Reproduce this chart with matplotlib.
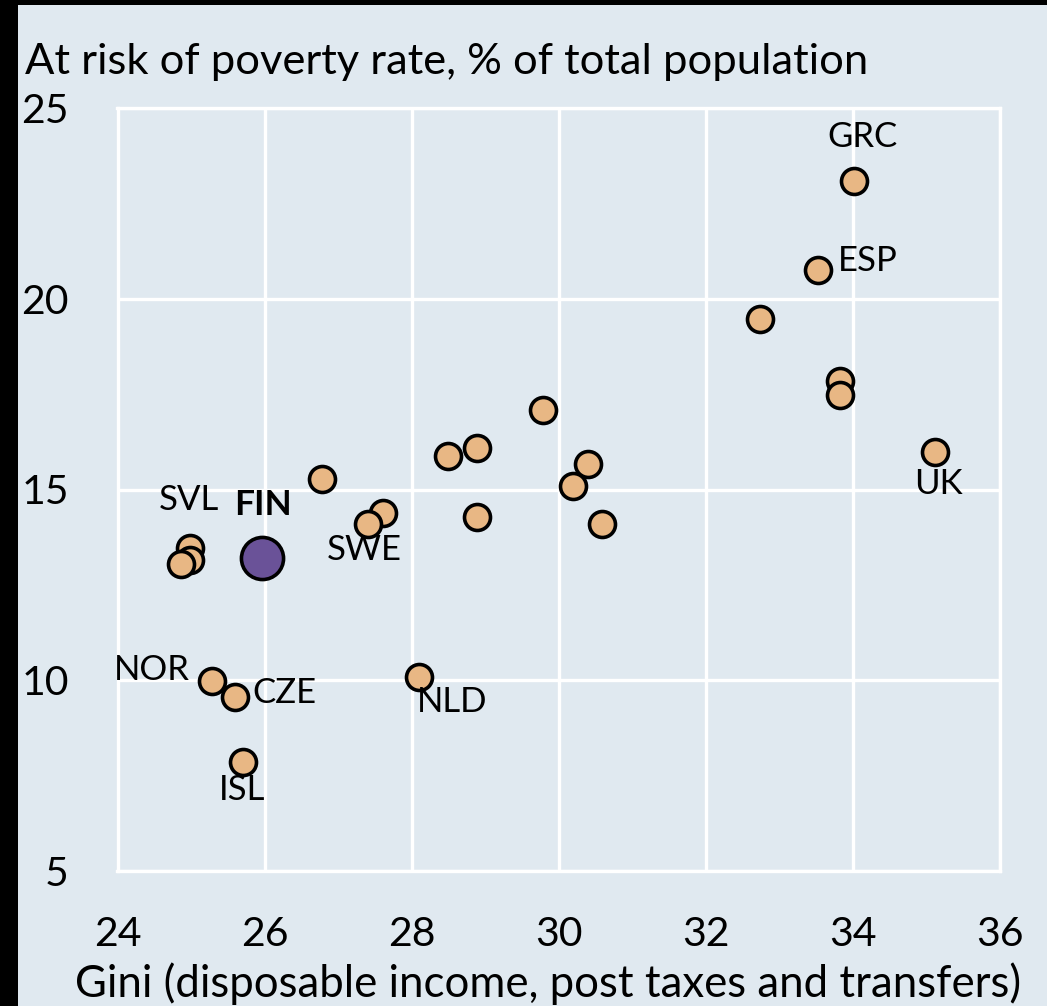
import matplotlib
matplotlib.use("Agg")
import matplotlib.pyplot as plt
from matplotlib.patches import Rectangle

plt.rcParams['font.family'] = ['Lato', 'DejaVu Sans']

# Data: Gini (x) vs at-risk-of-poverty rate (y)
gini = [34.02, 33.53, 32.73, 33.82, 33.82, 35.12, 29.79, 28.50, 28.89, 30.40,
        30.20, 30.59, 28.89, 26.78, 27.61, 27.40, 24.98, 24.98, 24.87,
        25.28, 25.60, 25.70, 28.10]
poverty = [23.09, 20.75, 19.47, 17.84, 17.48, 15.98, 17.08, 15.88, 16.09, 15.67,
           15.09, 14.10, 14.28, 15.28, 14.38, 14.09, 13.47, 13.15, 13.06,
           9.98, 9.55, 7.85, 10.08]
labels = ['GRC', 'ESP', '', '', '', 'UK', '', '', '', '',
          '', '', '', '', '', 'SWE', 'SVL', '', '',
          'NOR', 'CZE', 'ISL', 'NLD']
fin_gini = [25.97]
fin_poverty = [13.20]
fin_label = 'FIN'

xticks = [24, 26, 28, 30, 32, 34, 36]
yticks = [5, 10, 15, 20, 25]

BG = '#E0E9F0'
ORANGE = '#E8B784'
PURPLE = '#6A5298'

W, H = 1047, 1006
fig = plt.figure(figsize=(W / 100, H / 100), dpi=100)
fig.patch.set_facecolor(BG)
fig.patches.append(Rectangle((0, 0), 18 / W, 1, transform=fig.transFigure,
                             facecolor='black', edgecolor='none', zorder=0))
fig.patches.append(Rectangle((0, 1 - 5 / H), 1, 5 / H, transform=fig.transFigure,
                             facecolor='black', edgecolor='none', zorder=0))

ax = fig.add_axes([117.5 / W, 1 - 871 / H, (1000 - 117.5) / W, (871 - 108) / H])
ax.set_facecolor(BG)
ax.set_xlim(24, 36)
ax.set_ylim(5, 25)
ax.set_xticks(xticks)
ax.set_yticks(yticks)
ax.grid(True, color='white', linewidth=2.4)
ax.set_axisbelow(True)
for s in ax.spines.values():
    s.set_color('white')
    s.set_linewidth(2.4)
ax.tick_params(length=0, labelsize=29.5, colors='black')
ax.tick_params(axis='y', pad=35)
ax.tick_params(axis='x', pad=32.5)
for t in ax.get_yticklabels():
    t.set_horizontalalignment('right')

ax.scatter(gini, poverty, s=350, color=ORANGE, edgecolor='black',
           linewidth=2.6, zorder=3, clip_on=False)
ax.scatter(fin_gini, fin_poverty, s=920, color=PURPLE, edgecolor='black',
           linewidth=2.6, zorder=4, clip_on=False)

# label offsets in pixels (dx, dy) and alignment
offsets = {
    'GRC': (8, 44, 'center'),
    'ESP': (20, 9, 'left'),
    'UK': (3, -32, 'center'),
    'SWE': (-3, -26, 'center'),
    'SVL': (-1, 48, 'center'),
    'NOR': (-22, 11, 'right'),
    'CZE': (17, 4, 'left'),
    'ISL': (0, -28, 'center'),
    'NLD': (33, -25, 'center'),
}
for xv, yv, lab in zip(gini, poverty, labels):
    if not lab:
        continue
    dx, dy, ha = offsets[lab]
    ax.annotate(lab, (xv, yv), xytext=(dx, dy), textcoords='offset pixels',
                ha=ha, va='center', fontsize=25, zorder=5)
ax.annotate(fin_label, (fin_gini[0], fin_poverty[0]), xytext=(1, 53),
            textcoords='offset pixels', ha='center', va='center',
            fontsize=25.5, fontweight='bold', zorder=5)

fig.text(25 / W, 1 - 74 / H, 'At risk of poverty rate, % of total population',
         ha='left', va='baseline', fontsize=31.3)
fig.text(548.5 / W, 1 - 997 / H,
         'Gini (disposable income, post taxes and transfers)',
         ha='center', va='baseline', fontsize=31.5)

fig.savefig('out.png', dpi=100, facecolor=fig.get_facecolor())
